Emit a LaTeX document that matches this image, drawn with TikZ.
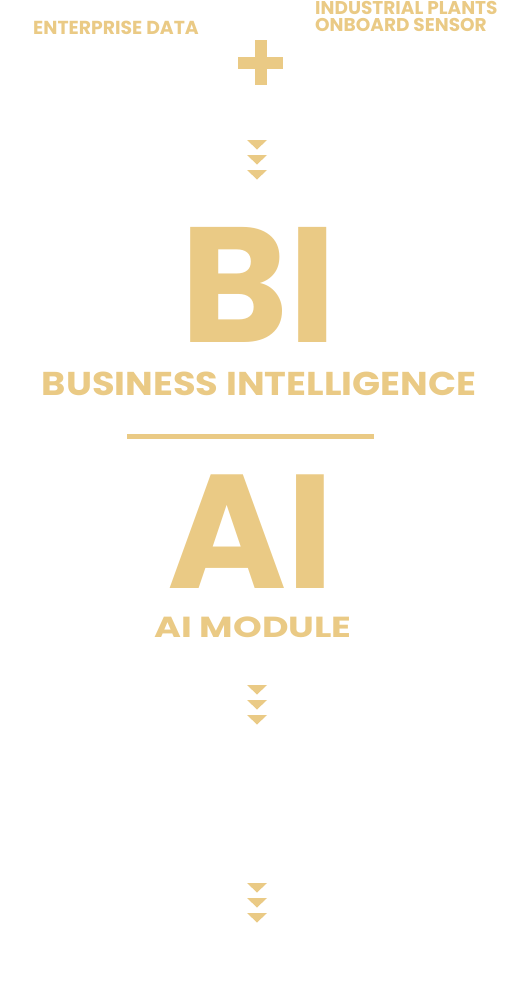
\documentclass[tikz,border=0pt]{standalone}
\usepackage{fontspec}
\setmainfont{Poppins}[BoldFont={* Bold}]
\newfontfamily\widebi{Poppins}[FakeStretch=1.116, BoldFont={* Bold}]
\newfontfamily\wideai{Poppins}[FakeStretch=1.26, BoldFont={* Bold}]
\usetikzlibrary{positioning,calc}
\definecolor{gold}{RGB}{234,202,133}
\tikzset{
    label/.style={inner sep=0pt, text=gold, font=\bfseries},
    tri/.style={fill=gold, draw=none}
}
\newcommand{\fsz}[1]{\fontsize{#1}{#1}\selectfont}

\begin{document}
\begin{tikzpicture}[x=1pt, y=-1pt]
    \useasboundingbox (0,0) rectangle (508,997);
    \def\tw{10} % half width of a triangle
    \def\th{9.5} % height of a triangle

    % sources
    \node (enterprise) at (33,34) [label, anchor=base west, font=\bfseries\fsz{18.8}] {ENTERPRISE DATA};
    \node (plants) at (315,31) [label, anchor=base west, align=left,
        font=\bfseries\fontsize{18.5}{17}\selectfont] {INDUSTRIAL PLANTS\\ONBOARD SENSOR};

    % plus sign
    \coordinate (plus) at (260.5,62.5);
    \fill[gold] ($(plus)+(-22.5,-6)$) rectangle ($(plus)+(22.5,6)$);
    \fill[gold] ($(plus)+(-6,-22.5)$) rectangle ($(plus)+(6,22.5)$);

    % big letters
    \node (bi) at (258.5,342) [label, anchor=base, font=\bfseries\fsz{164}] {BI};
    \node (bilabel) at (259,395) [label, anchor=base, font=\widebi\bfseries\fsz{33}] {BUSINESS INTELLIGENCE};
    \coordinate (ruleL) at (127,436.5);
    \coordinate (ruleR) at (374,436.5);
    \draw[gold, line width=5pt] (ruleL) -- (ruleR);
    \node (ai) at (251,588) [label, anchor=base, font=\bfseries\fsz{162}] {AI};
    \node (ailabel) at (253,637) [label, anchor=base, font=\wideai\bfseries\fsz{29}] {AI MODULE};

    % arrow groups
    \coordinate (arrA) at (257,140);
    \coordinate (arrB) at (257,685);
    \coordinate (arrC) at (257,883);
    \foreach \a in {arrA, arrB, arrC}
    \foreach \k in {0,1,2}
    \fill[tri] ($(\a)+(-\tw,15*\k)$) -- ($(\a)+(\tw,15*\k)$) -- ($(\a)+(0,15*\k+\th)$) -- cycle;
\end{tikzpicture}
\end{document}
